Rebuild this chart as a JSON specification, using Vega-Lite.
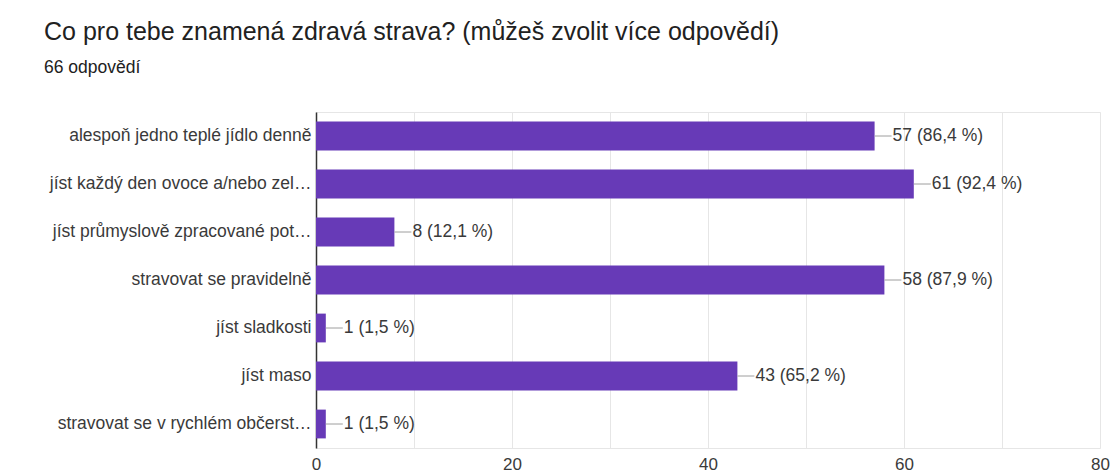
{
  "$schema": "https://vega.github.io/schema/vega-lite/v6.json",
  "autosize": {"type": "none"},
  "width": 784,
  "height": 336,
  "padding": {"left": 316, "top": 112, "right": 11, "bottom": 27},
  "background": "white",
  "config": {
    "view": {"stroke": "#e6e6e6"},
    "font": "Liberation Sans"
  },
  "title": {
    "text": "Co pro tebe znamená zdravá strava? (můžeš zvolit více odpovědí)",
    "subtitle": "66 odpovědí",
    "anchor": "start",
    "frame": "group",
    "dx": -272,
    "offset": 36,
    "font": "Liberation Sans",
    "fontSize": 25,
    "fontWeight": "normal",
    "color": "#212121",
    "subtitleFont": "Liberation Sans",
    "subtitleFontSize": 17.5,
    "subtitleColor": "#212121",
    "subtitlePadding": 14
  },
  "data": {
    "values": [
      {"cat": "alespoň jedno teplé jídlo denně", "value": 57, "label": "57 (86,4 %)"},
      {"cat": "jíst každý den ovoce a/nebo zel…", "value": 61, "label": "61 (92,4 %)"},
      {"cat": "jíst průmyslově zpracované pot…", "value": 8, "label": "8 (12,1 %)"},
      {"cat": "stravovat se pravidelně", "value": 58, "label": "58 (87,9 %)"},
      {"cat": "jíst sladkosti", "value": 1, "label": "1 (1,5 %)"},
      {"cat": "jíst maso", "value": 43, "label": "43 (65,2 %)"},
      {"cat": "stravovat se v rychlém občerst…", "value": 1, "label": "1 (1,5 %)"}
    ]
  },
  "encoding": {
    "y": {
      "field": "cat",
      "type": "nominal",
      "sort": null,
      "title": null,
      "scale": {"paddingInner": 0.4, "paddingOuter": 0.2},
      "axis": {
        "domainColor": "#333333",
        "domainWidth": 1.5,
        "ticks": false,
        "labelPadding": 5,
        "labelLimit": 400,
        "labelFontSize": 17.5,
        "labelColor": "#3a3a3a",
        "grid": false
      }
    }
  },
  "layer": [
    {
      "mark": {"type": "bar", "color": "#673ab7"},
      "encoding": {
        "x": {
          "field": "value",
          "type": "quantitative",
          "title": null,
          "scale": {"domain": [0, 80], "nice": false},
          "axis": {
            "values": [0, 10, 20, 30, 40, 50, 60, 70, 80],
            "labelExpr": "datum.value % 20 == 0 ? datum.label : ''",
            "domain": false,
            "ticks": false,
            "grid": true,
            "gridColor": "#e6e6e6",
            "labelPadding": 8,
            "labelFontSize": 17,
            "labelColor": "#3a3a3a",
            "labelFlush": false
          }
        }
      }
    },
    {
      "mark": {"type": "rule", "color": "#9e9e9e", "x2Offset": 17, "strokeWidth": 1},
      "encoding": {
        "x": {"field": "value", "type": "quantitative"},
        "x2": {"field": "value"}
      }
    },
    {
      "mark": {"type": "text", "align": "left", "baseline": "middle", "dx": 18, "fontSize": 17.5, "color": "#3a3a3a"},
      "encoding": {
        "x": {"field": "value", "type": "quantitative"},
        "text": {"field": "label"}
      }
    }
  ]
}
